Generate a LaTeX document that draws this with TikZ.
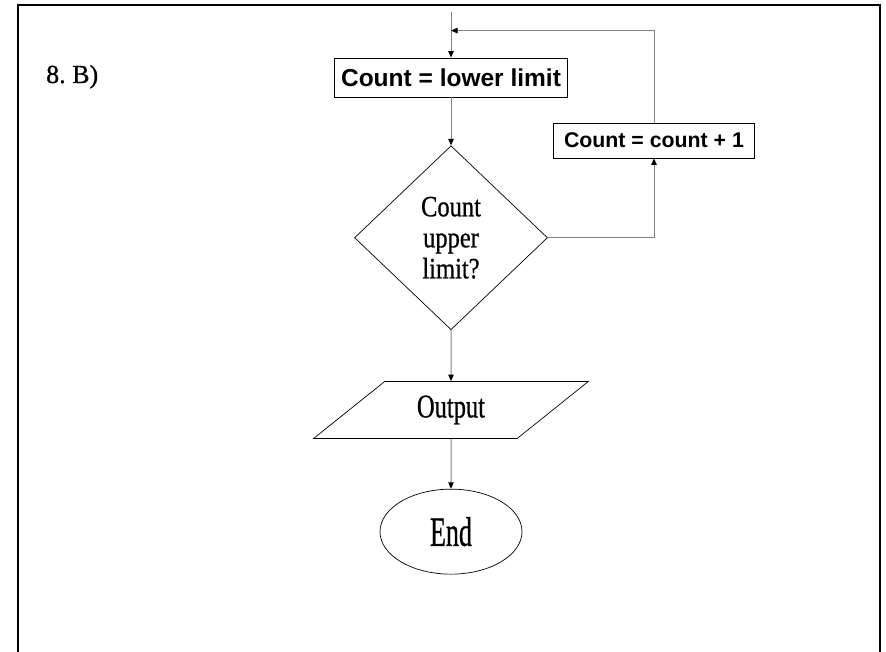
\documentclass[tikz,border=0pt]{standalone}
\usepackage{fontspec}
\setmainfont{Liberation Serif}
\setsansfont{Liberation Sans}
\newfontfamily\heavyserif{Liberation Serif}[FakeBold=0.8]
\usepackage{graphicx}
\usetikzlibrary{arrows.meta,positioning,shapes.geometric}

\newcommand{\vstretch}[2]{\scalebox{1}[#1]{#2}}

\begin{document}
\begin{tikzpicture}[x=1pt,y=1pt,>={Triangle[length=6.5pt,width=5.5pt,color=black]},
  proc/.style={draw,line width=0.8pt,fill=white,align=center,inner sep=0pt,
    font=\sffamily\bfseries\fontsize{24.5}{29}\selectfont},
  decision/.style={diamond,draw,line width=0.7pt,align=center,inner sep=0pt,
    minimum width=193pt,minimum height=184pt,font=\heavyserif\fontsize{24.5}{31}\selectfont},
  io/.style={trapezium,trapezium left angle=38.4,trapezium right angle=141.6,
    trapezium stretches=true,draw,line width=0.7pt,inner sep=0pt,
    minimum width=275pt,minimum height=57pt,font=\heavyserif\fontsize{24.5}{29}\selectfont},
  term/.style={ellipse,draw,line width=0.7pt,inner sep=0pt,
    minimum width=142pt,minimum height=85pt,font=\heavyserif\fontsize{26}{31}\selectfont},
  flow/.style={draw=black!50,line width=1pt}]
% frame, open at the bottom
\useasboundingbox (0,0) rectangle (886,652);
\draw[line width=2.5pt] (18,0) -- (18,647) -- (880,647) -- (880,0);
\node[anchor=base west,inner sep=0pt,font=\heavyserif\fontsize{26}{31}\selectfont] (label) at (46,569) {8.\ B)};
% main column
\node[proc,minimum width=233pt,minimum height=39pt] (init) at (451,574.5) {Count = lower limit};
\node[decision,below=48pt of init] (test)
  {\vstretch{1.2}{Count}\\\vstretch{1.2}{upper}\\\vstretch{1.2}{limit?}};
\node[io,below=51pt of test] (out) {\vstretch{1.35}{Output}};
\node[term,below=50pt of out] (term) {\vstretch{1.6}{End}};
% loop box
\node[proc,minimum width=201pt,minimum height=35pt,
  font=\sffamily\bfseries\fontsize{21.3}{25}\selectfont] (incr) at (654,511.5) {Count = count + 1};
\coordinate (start) at ([yshift=46pt]init.north);
\coordinate (join) at ([yshift=27pt]init.north);
\draw[flow,->] (start) -- (init);
\draw[flow,->] (init) -- (test);
\draw[flow,->] (test) -- (out);
\draw[flow,->] (out) -- (term);
\draw[flow,->] (test.east) -| (incr.south);
\draw[flow,->] (incr.north) |- (join);
\end{tikzpicture}
\end{document}
